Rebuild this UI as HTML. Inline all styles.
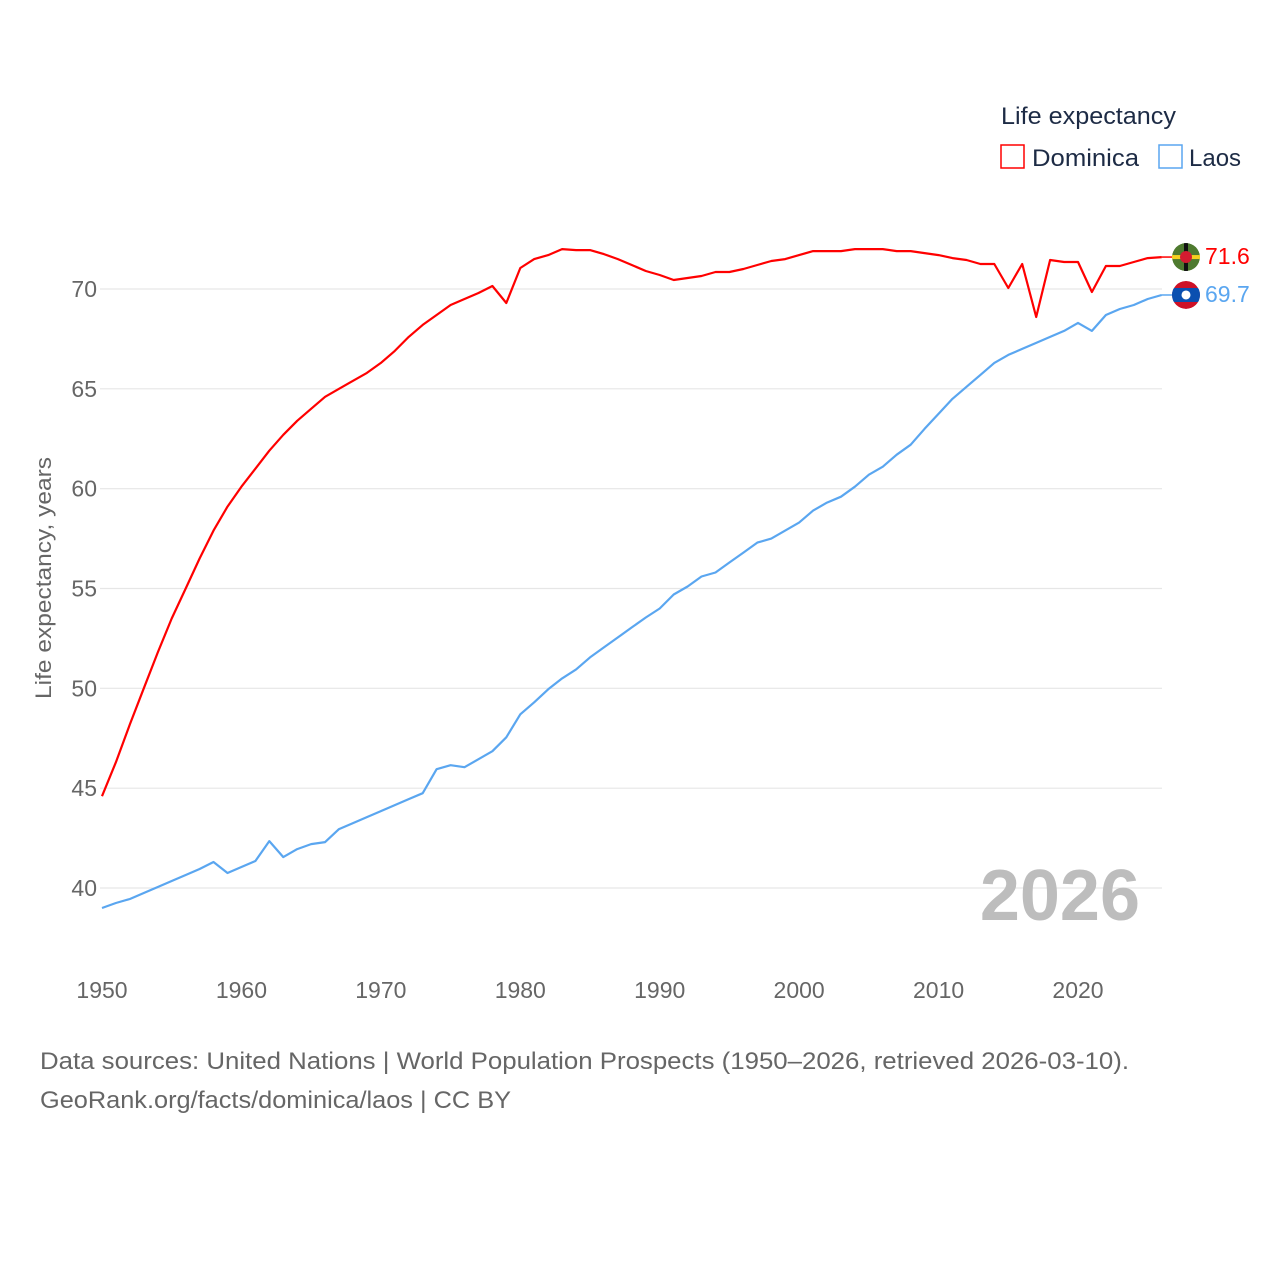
<!DOCTYPE html>
<html><head><meta charset="utf-8">
<style>
body{margin:0;background:#fff;font-family:"Liberation Sans",sans-serif;}
svg text{font-family:"Liberation Sans",sans-serif;}
</style></head>
<body>
<svg id="chart" width="1280" height="1280" xmlns="http://www.w3.org/2000/svg">
<defs>
<clipPath id="clipD"><circle cx="1186" cy="256" r="14"/></clipPath>
<clipPath id="clipL"><circle cx="1186" cy="294" r="14"/></clipPath>
</defs>
<g id="grid"></g>
<g id="yticks"></g>
<g id="xticks"></g>
<text transform="translate(51,578) rotate(-90)" text-anchor="middle" font-size="22" fill="#666" textLength="242" lengthAdjust="spacingAndGlyphs">Life expectancy, years</text>
<text x="1140" y="920" text-anchor="end" font-size="72" font-weight="bold" fill="#bdbdbd">2026</text>
<g id="series"></g>
<g>
<text x="1001" y="124" font-size="24" fill="#1d2b45" textLength="175" lengthAdjust="spacingAndGlyphs">Life expectancy</text>
<rect x="1001" y="145" width="23" height="23" fill="none" stroke="#ff0000" stroke-width="1.5"/>
<text x="1032" y="166" font-size="24" fill="#1d2b45" textLength="107" lengthAdjust="spacingAndGlyphs">Dominica</text>
<rect x="1159" y="145" width="23" height="23" fill="none" stroke="#5aa6f0" stroke-width="1.5"/>
<text x="1189" y="166" font-size="24" fill="#1d2b45">Laos</text>
</g>
<text x="40" y="1069" font-size="24" fill="#666" textLength="1089" lengthAdjust="spacingAndGlyphs">Data sources: United Nations | World Population Prospects (1950–2026, retrieved 2026-03-10).</text>
<text x="40" y="1108" font-size="24" fill="#666" textLength="471" lengthAdjust="spacingAndGlyphs">GeoRank.org/facts/dominica/laos | CC BY</text>
</svg>
<script>
const years = [];
for (let y = 1950; y <= 2026; y++) years.push(y);
const dominica = [44.6,46.3,48.2,50.0,51.8,53.5,55.0,56.5,57.9,59.1,60.1,61.0,61.9,62.7,63.4,64.0,64.6,65.0,65.4,65.8,66.3,66.9,67.6,68.2,68.7,69.2,69.5,69.8,70.15,69.3,71.05,71.5,71.7,72.0,71.95,71.95,71.75,71.5,71.2,70.9,70.7,70.45,70.55,70.65,70.85,70.85,71.0,71.2,71.4,71.5,71.7,71.9,71.9,71.9,72.0,72.0,72.0,71.9,71.9,71.8,71.7,71.55,71.45,71.25,71.25,70.05,71.25,68.6,71.45,71.35,71.35,69.85,71.15,71.15,71.35,71.55,71.6];
const laos = [39.0,39.25,39.45,39.75,40.05,40.35,40.65,40.95,41.3,40.75,41.05,41.35,42.35,41.55,41.95,42.2,42.3,42.95,43.25,43.55,43.85,44.15,44.45,44.75,45.95,46.15,46.05,46.45,46.85,47.55,48.7,49.3,49.95,50.5,50.95,51.55,52.05,52.55,53.05,53.55,54.0,54.7,55.1,55.6,55.8,56.3,56.8,57.3,57.5,57.9,58.3,58.9,59.3,59.6,60.1,60.7,61.1,61.7,62.2,63.0,63.75,64.5,65.1,65.7,66.3,66.7,67.0,67.3,67.6,67.9,68.3,67.9,68.7,69.0,69.2,69.5,69.7];
const yTicks = [40,45,50,55,60,65,70];
const xTicks = [1950,1960,1970,1980,1990,2000,2010,2020];

const NS = "http://www.w3.org/2000/svg";
const x = yr => 102 + (yr - 1950) * (1078 - 102) / 70;
const y = v => 289 + (70 - v) * (888 - 289) / 30;
function mk(tag, attrs, parent){const e=document.createElementNS(NS,tag);for(const k in attrs)e.setAttribute(k,attrs[k]);parent.appendChild(e);return e;}

const grid=document.getElementById('grid'), yt=document.getElementById('yticks'), xt=document.getElementById('xticks'), ser=document.getElementById('series');
yTicks.forEach(t=>{
  const l=mk('line',{x1:100,x2:1162,y1:y(t),y2:y(t),stroke:'#e6e6e6','stroke-width':1.2},grid);
  
  
  const tx=mk('text',{x:97,y:y(t)+8,'text-anchor':'end','font-size':23,fill:'#666'},yt);
  tx.textContent=t;
  
  
});
xTicks.forEach(t=>{
  const tx=mk('text',{x:x(t),y:998,'text-anchor':'middle','font-size':23,fill:'#666'},xt);
  tx.textContent=t;
  
  
});
function line(vals,color,name){
  const d=vals.map((v,i)=>(i?'L':'M')+x(years[i]).toFixed(1)+','+y(v).toFixed(1)).join('');
  const p=mk('path',{d:d,fill:'none',stroke:color,'stroke-width':2.2,'stroke-linejoin':'round'},ser);
  
  
}
line(dominica,'#ff0000','line-dominica');
line(laos,'#5aa6f0','line-laos');

const dLast=dominica[dominica.length-1], lLast=laos[laos.length-1], xEnd=x(years[years.length-1]);
document.querySelector('#clipD circle').setAttribute('cy',y(dLast));
document.querySelector('#clipL circle').setAttribute('cy',y(lLast));
mk('line',{x1:xEnd,x2:1172,y1:y(dLast),y2:y(dLast),stroke:'#ff0000','stroke-width':1.5},ser);
mk('line',{x1:xEnd,x2:1172,y1:y(lLast),y2:y(lLast),stroke:'#5aa6f0','stroke-width':1.5},ser);
const c1=mk('g',{'clip-path':'url(#clipD)'},ser);


mk('circle',{cx:1186,cy:y(dLast),r:14,fill:'#4e7a2f'},c1);
mk('rect',{x:1172,y:y(dLast)-2,width:28,height:4,fill:'#f5d020'},c1);
mk('rect',{x:1184,y:y(dLast)-14,width:4,height:28,fill:'#111'},c1);
mk('circle',{cx:1186,cy:y(dLast),r:6,fill:'#d41c30'},c1);
const c2=mk('g',{'clip-path':'url(#clipL)'},ser);


mk('circle',{cx:1186,cy:y(lLast),r:14,fill:'#ce1126'},c2);
mk('rect',{x:1172,y:y(lLast)-7,width:28,height:14,fill:'#0a4fb0'},c2);
mk('circle',{cx:1186,cy:y(lLast),r:4.5,fill:'#fff'},c2);
const t1=mk('text',{x:1205,y:y(dLast)+7,'font-size':23,fill:'#ff0000'},ser);
t1.textContent=dLast.toFixed(1);


const t2=mk('text',{x:1205,y:y(lLast)+7,'font-size':23,fill:'#5aa6f0'},ser);
t2.textContent=lLast.toFixed(1);


</script>
</body></html>
